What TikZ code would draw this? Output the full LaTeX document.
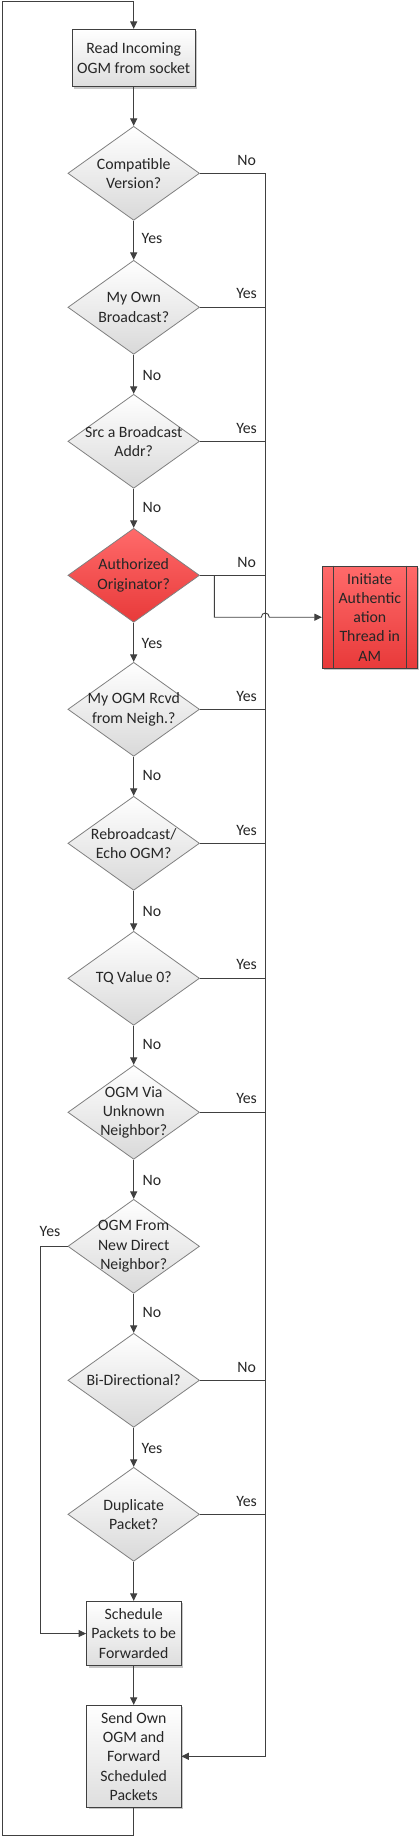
\documentclass[tikz,border=0pt]{standalone}
\usepackage{fontspec}
\setmainfont{Carlito}
\usetikzlibrary{shapes.geometric,arrows.meta,shadows,calc}
\definecolor{ln}{HTML}{404040}
\definecolor{dborder}{HTML}{808080}
\definecolor{txt}{HTML}{262626}
\definecolor{redtop}{HTML}{FF6A6A}
\definecolor{redbot}{HTML}{E83A3A}
\begin{document}
\begin{tikzpicture}[x=1pt,y=-1pt,
  font=\fontsize{15.8}{19.3}\selectfont, text=txt,
  dia/.style={diamond, draw=dborder, line width=0.8pt, minimum width=131.6pt,
    minimum height=94pt, inner sep=0pt, top color=white, bottom color=black!15},
  reddia/.style={dia, top color=redtop, bottom color=redbot},
  dtext/.style={align=center, inner sep=0pt},
  procbox/.style={rectangle, draw=ln, line width=0.8pt, align=center, inner sep=0pt,
    top color=white, bottom color=black!13,
    drop shadow={shadow xshift=2pt, shadow yshift=-2pt, fill=black, opacity=0.22}},
  redbox/.style={procbox, top color=redtop, bottom color=redbot},
  lbl/.style={inner sep=0pt},
  wire/.style={draw=ln, line width=0.9pt},
  conn/.style={wire, -{Triangle[length=7.5pt,width=7pt]}}
]
\useasboundingbox (0,0) rectangle (420,1837);

% process boxes
\node[procbox, minimum width=123pt, minimum height=57.4pt] (read) at (133.7,58) {Read Incoming\\OGM from socket};
\node[procbox, minimum width=94.4pt, minimum height=64.4pt] (sched) at (133.7,1633.5) {Schedule\\Packets to be\\Forwarded};
\node[procbox, minimum width=94.4pt, minimum height=102pt] (send) at (133.7,1756.3) {Send Own\\OGM and\\Forward\\Scheduled\\Packets};
\node[redbox, minimum width=95pt, minimum height=102.3pt] (auth) at (369.8,617.2) {Initiate\\Authentic\\ation\\Thread in\\AM};
\draw[wire, line width=0.8pt] ([xshift=11.4pt]auth.north west) -- ([xshift=11.4pt]auth.south west);
\draw[wire, line width=0.8pt] ([xshift=-11.4pt]auth.north east) -- ([xshift=-11.4pt]auth.south east);

% decisions
\node[dia] (d1) at (133.7,173.3) {};
\node[dtext] (t1) at (d1) {Compatible\\Version?};
\node[dia] (d2) at (133.7,307.3) {};
\node[dtext] (t2) at (d2) {My Own\\Broadcast?};
\node[dia] (d3) at (133.7,441.3) {};
\node[dtext] (t3) at (d3) {Src a Broadcast\\Addr?};
\node[reddia] (d4) at (133.7,575.3) {};
\node[dtext] (t4) at (d4) {Authorized\\Originator?};
\node[dia] (d5) at (133.7,709.3) {};
\node[dtext] (t5) at (d5) {My OGM Rcvd\\from Neigh.?};
\node[dia] (d6) at (133.7,843.3) {};
\node[dtext] (t6) at (d6) {Rebroadcast/\\Echo OGM?};
\node[dia] (d7) at (133.7,978.3) {};
\node[dtext] (t7) at (d7) {TQ Value 0?};
\node[dia] (d8) at (133.7,1112.3) {};
\node[dtext] (t8) at (d8) {OGM Via\\Unknown\\Neighbor?};
\node[dia] (d9) at (133.7,1246.3) {};
\node[dtext] (t9) at (d9) {OGM From\\New Direct\\Neighbor?};
\node[dia] (d10) at (133.7,1380.3) {};
\node[dtext] (t10) at (d10) {Bi-Directional?};
\node[dia] (d11) at (133.7,1514.3) {};
\node[dtext] (t11) at (d11) {Duplicate\\Packet?};

% helper coordinates
\coordinate (busT) at (265.3,173.3);
\coordinate (busB) at (265.3,1756.3);
\coordinate (br) at (214.3,575.3);
\coordinate (lft) at (40.3,1246.3);
\coordinate (lpB) at (2,1835);
\coordinate (lpT) at (2,1.5);

% main vertical flow
\draw[conn] (read) -- (d1);
\draw[conn] (d1) -- (d2);
\draw[conn] (d2) -- (d3);
\draw[conn] (d3) -- (d4);
\draw[conn] (d4) -- (d5);
\draw[conn] (d5) -- (d6);
\draw[conn] (d6) -- (d7);
\draw[conn] (d7) -- (d8);
\draw[conn] (d8) -- (d9);
\draw[conn] (d9) -- (d10);
\draw[conn] (d10) -- (d11);
\draw[conn] (d11) -- (sched);
\draw[conn] (sched) -- (send);

% right bus
\draw[conn] (d1.east) -- (busT) -- (busB) -- (send.east);
\foreach \d in {d2,d3,d4,d5,d6,d7,d8,d10,d11}{
  \draw[wire] (\d.east) -- (\d.east -| busT);
}

% branch to authentication (with hop over bus)
\draw[conn] (br) |- ($(auth.west -| busT)+(-4,0)$) .. controls +(0,-5.5) and +(0,-5.5) .. ++(8,0) -- (auth.west);

% left bypass
\draw[conn] (d9.west) -- (lft) |- (sched.west);

% loop back
\draw[conn] (send.south) |- (lpB) |- (read.north |- lpT) -- (read.north);

% labels
\node[lbl] (l1r) at (246.6,160) {No};
\node[lbl] (l1d) at (152,238.7) {Yes};
\node[lbl] (l2r) at (246.6,293.5) {Yes};
\node[lbl] (l2d) at (152,375) {No};
\node[lbl] (l3r) at (246.6,428) {Yes};
\node[lbl] (l3d) at (152,507.5) {No};
\node[lbl] (l4r) at (246.6,562) {No};
\node[lbl] (l4d) at (152,643.3) {Yes};
\node[lbl] (l5r) at (246.6,696) {Yes};
\node[lbl] (l5d) at (152,775.3) {No};
\node[lbl] (l6r) at (246.6,830) {Yes};
\node[lbl] (l6d) at (152,911.7) {No};
\node[lbl] (l7r) at (246.6,964.7) {Yes};
\node[lbl] (l7d) at (152,1044) {No};
\node[lbl] (l8r) at (246.6,1098.7) {Yes};
\node[lbl] (l8d) at (152,1180) {No};
\node[lbl] (l9l) at (50,1231) {Yes};
\node[lbl] (l9d) at (152,1312) {No};
\node[lbl] (l10r) at (246.6,1367) {No};
\node[lbl] (l10d) at (152,1448.3) {Yes};
\node[lbl] (l11r) at (246.6,1501) {Yes};
\end{tikzpicture}
\end{document}
